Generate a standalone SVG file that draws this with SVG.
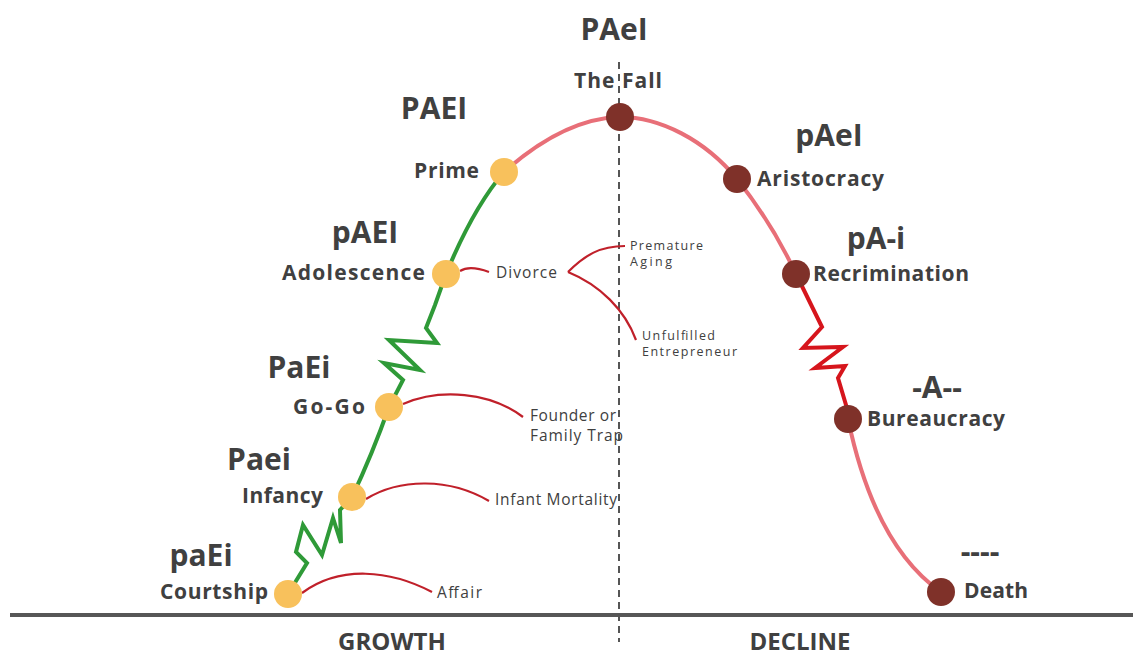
<svg xmlns="http://www.w3.org/2000/svg" width="1133" height="657" viewBox="0 0 1133 657">
  <style>
    .axis { stroke: #575757; stroke-width: 4; fill: none; }
    .divider { stroke: #555; stroke-width: 2; stroke-dasharray: 7 5; fill: none; }
    .grow { stroke: #2f9a38; stroke-width: 4; fill: none; stroke-linejoin: miter; }
    .fade { stroke: #e86f78; stroke-width: 4; fill: none; }
    .crisis { stroke: #d6151c; stroke-width: 4; fill: none; }
    .trap { stroke: #c0202a; stroke-width: 2.2; fill: none; }
    .up { fill: #f8c15c; }
    .down { fill: #7f3129; }
    .stage { font-family: "Open Sans", "Liberation Sans", sans-serif; font-weight: 700; font-size: 21px; fill: #404040; }
    .code { font-family: "Open Sans", "Liberation Sans", sans-serif; font-weight: 700; font-size: 30px; fill: #404040; }
    .note { font-family: "Open Sans", "Liberation Sans", sans-serif; font-size: 15.5px; fill: #404040; }
    .note-s { font-family: "Open Sans", "Liberation Sans", sans-serif; font-size: 12.5px; fill: #404040; }
    .phase { font-family: "Open Sans", "Liberation Sans", sans-serif; font-weight: 700; font-size: 24px; fill: #404040; }
  </style>

  <!-- baseline and growth/decline divider -->
  <line class="axis" x1="10" y1="615" x2="1133" y2="615"/>
  <line class="divider" x1="619" y1="62" x2="619" y2="642"/>

  <!-- lifecycle curve and trap branches -->
  <g id="connectors">
    <path class="grow" d="M288,594 L307,563 L296,552 L303,525 L322,555 L333,518 L341,543 L340,510 L352,497"/>
    <path class="grow" d="M352,497 Q372,455 389,407"/>
    <path class="grow" d="M389,407 L403,380 L384,363 L420,370 L389,340 L437,343 L426,328 L435,305 L446,274"/>
    <path class="grow" d="M446,274 C460,240 480,200 504,172"/>
    <path class="fade" d="M504,172 C540,140 580,118 620,117 C660,117 705,140 737,179 C760,208 780,240 796,274"/>
    <path class="crisis" d="M796,274 L822,327 L803,348 L843,347 L815,368 L845,366 L838,378 L846,405 L848,419"/>
    <path class="fade" d="M848,419 C865,500 895,560 941,592"/>

    <path class="trap" d="M302,593 C340,565 390,570 432,592"/>
    <path class="trap" d="M366,499 C400,478 450,478 489,501"/>
    <path class="trap" d="M403,404 C440,388 490,392 523,417"/>
    <path class="trap" d="M460,271 C468,266 478,268 489,272"/>
    <path class="trap" d="M568,272 C585,255 600,246 625,246"/>
    <path class="trap" d="M568,272 C600,285 625,310 636,340"/>
  </g>

  <!-- growth stages -->
  <g id="courtship">
    <circle class="up" cx="288" cy="594" r="14"/>
    <text class="stage" x="160" y="599" textLength="108">Courtship</text>
    <text class="code" x="201" y="566" text-anchor="middle">paEi</text>
  </g>
  <g id="infancy">
    <circle class="up" cx="352" cy="497" r="14"/>
    <text class="stage" x="242" y="503" textLength="81">Infancy</text>
    <text class="code" x="259" y="470" text-anchor="middle">Paei</text>
  </g>
  <g id="gogo">
    <circle class="up" cx="389" cy="407" r="14"/>
    <text class="stage" x="293" y="414" textLength="72">Go-Go</text>
    <text class="code" x="299" y="378" text-anchor="middle">PaEi</text>
  </g>
  <g id="adolescence">
    <circle class="up" cx="446" cy="274" r="14"/>
    <text class="stage" x="282" y="280" textLength="143">Adolescence</text>
    <text class="code" x="365" y="243" text-anchor="middle">pAEI</text>
  </g>
  <g id="prime">
    <circle class="up" cx="504" cy="172" r="14"/>
    <text class="stage" x="414" y="178" textLength="65">Prime</text>
    <text class="code" x="434" y="119" text-anchor="middle">PAEI</text>
  </g>

  <!-- decline stages -->
  <g id="the-fall">
    <circle class="down" cx="620" cy="117" r="14"/>
    <text class="stage" x="574" y="88" textLength="88">The Fall</text>
    <text class="code" x="614" y="40" text-anchor="middle">PAeI</text>
  </g>
  <g id="aristocracy">
    <circle class="down" cx="737" cy="179" r="14"/>
    <text class="stage" x="757" y="186" textLength="127">Aristocracy</text>
    <text class="code" x="829" y="146" text-anchor="middle">pAeI</text>
  </g>
  <g id="recrimination">
    <circle class="down" cx="796" cy="274" r="14"/>
    <text class="stage" x="813" y="281" textLength="156">Recrimination</text>
    <text class="code" x="876" y="249" text-anchor="middle">pA-i</text>
  </g>
  <g id="bureaucracy">
    <circle class="down" cx="848" cy="419" r="14"/>
    <text class="stage" x="867" y="426" textLength="138">Bureaucracy</text>
    <text class="code" x="937" y="398" text-anchor="middle">-A--</text>
  </g>
  <g id="death">
    <circle class="down" cx="941" cy="592" r="14"/>
    <text class="stage" x="964" y="598" textLength="64">Death</text>
    <text class="code" x="980" y="562" text-anchor="middle">----</text>
  </g>

  <!-- traps -->
  <g id="trap-affair"><text class="note" x="437" y="598" textLength="45">Affair</text></g>
  <g id="trap-infant"><text class="note" x="495" y="505" textLength="122">Infant Mortality</text></g>
  <g id="trap-founder">
    <text class="note" x="530" y="421" textLength="86">Founder or</text>
    <text class="note" x="530" y="441" textLength="93">Family Trap</text>
  </g>
  <g id="trap-divorce"><text class="note" x="496" y="278" textLength="61">Divorce</text></g>
  <g id="trap-premature">
    <text class="note-s" x="630" y="250" textLength="73">Premature</text>
    <text class="note-s" x="630" y="266" textLength="42">Aging</text>
  </g>
  <g id="trap-unfulfilled">
    <text class="note-s" x="642" y="340" textLength="73">Unfulfilled</text>
    <text class="note-s" x="642" y="356" textLength="95">Entrepreneur</text>
  </g>

  <!-- phase captions -->
  <text class="phase" x="392" y="650" text-anchor="middle">GROWTH</text>
  <text class="phase" x="800" y="650" text-anchor="middle">DECLINE</text>
</svg>
